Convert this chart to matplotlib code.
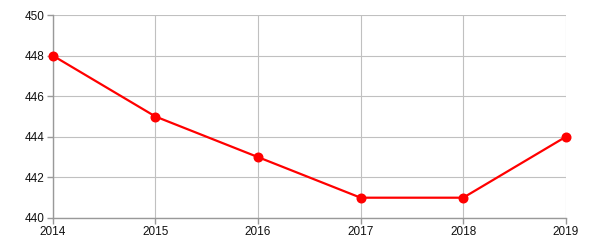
import matplotlib.pyplot as plt

years = [2014, 2015, 2016, 2017, 2018, 2019]
values = [448, 445, 443, 441, 441, 444]

plt.rcParams['font.family'] = ['Liberation Sans', 'DejaVu Sans']

fig = plt.figure(figsize=(6, 2.5), dpi=100)
ax = fig.add_axes([0.088, 0.128, 0.855, 0.812])

ax.plot(years, values, color='#ff0000', linewidth=1.6, marker='o', markersize=6.2,
        zorder=3, clip_on=False)

ax.set_xlim(2014, 2019)
ax.set_ylim(440, 450)
ax.set_xticks(years)
ax.set_yticks([440, 442, 444, 446, 448, 450])
ax.grid(True, color='#c0c0c0', linewidth=0.8)
ax.set_axisbelow(True)

for s in ['top', 'right']:
    ax.spines[s].set_visible(False)
for s in ['left', 'bottom']:
    ax.spines[s].set_color('#999999')
    ax.spines[s].set_linewidth(1)

ax.tick_params(axis='both', length=4, width=1, color='#999999', labelsize=8.5,
               labelcolor='#111111', pad=2)

fig.savefig('out.png', dpi=100)
